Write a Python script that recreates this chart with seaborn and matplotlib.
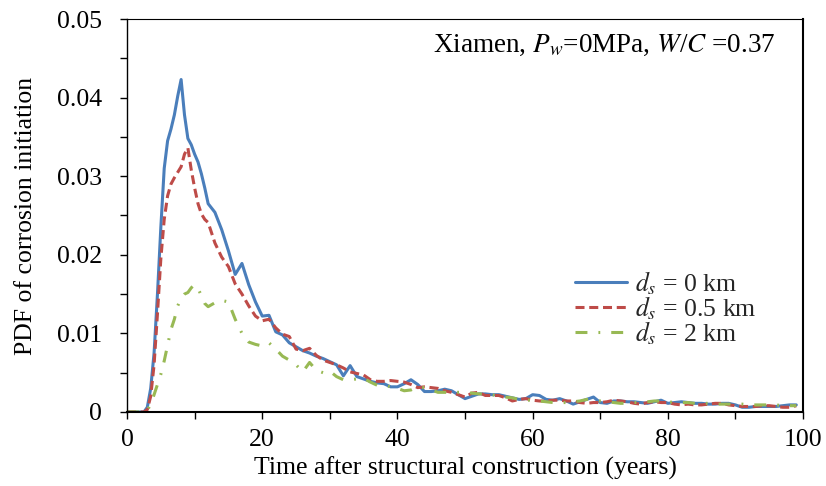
import matplotlib
matplotlib.use("Agg")
import matplotlib.pyplot as plt
import seaborn as sns
import pandas as pd
from matplotlib.ticker import MultipleLocator, FixedLocator, FixedFormatter

# ---------------- data ----------------
years = [
    0, 1, 2, 2.5, 3, 3.5, 4, 4.5, 5, 5.5, 6, 6.5, 7, 7.5, 8, 8.5, 9, 9.5, 10, 10.5, 11, 11.5, 12,
    13, 14, 15, 16, 17, 18, 19,
    20, 21, 22, 23, 24, 25, 26, 27, 28, 29,
    30, 31, 32, 33, 34, 35, 36, 37, 38, 39,
    40, 41, 42, 43, 44, 45, 46, 47, 48, 49,
    50, 51, 52, 53, 54, 55, 56, 57, 58, 59,
    60, 61, 62, 63, 64, 65, 66, 67, 68, 69,
    70, 71, 72, 73, 74, 75, 76, 77, 78, 79,
    80, 81, 82, 83, 84, 85, 86, 87, 88, 89,
    90, 91, 92, 93, 94, 95, 96, 97, 98, 99,
]

pdf_0km = [
    0, 0, 0, 0, 0.0006, 0.0030, 0.0075, 0.0150, 0.0235, 0.0310, 0.0345, 0.0360, 0.0378, 0.0402,
    0.0423, 0.0378, 0.0348, 0.0340, 0.0328, 0.0318, 0.0303, 0.0285, 0.0265,
    0.0254, 0.0232, 0.0205, 0.0175, 0.0189, 0.0162, 0.0140,
    0.0122, 0.0123, 0.0102, 0.0098, 0.0088, 0.0083, 0.0078, 0.0075, 0.0071, 0.0068,
    0.0064, 0.0060, 0.0046, 0.0059, 0.0045, 0.0042, 0.0039, 0.0037, 0.0036, 0.0032,
    0.0032, 0.0036, 0.0041, 0.0035, 0.0026, 0.0026, 0.0027, 0.0029, 0.0027, 0.0022,
    0.0017, 0.0020, 0.0023, 0.0023, 0.0022, 0.0022, 0.0020, 0.0018, 0.0016, 0.0017,
    0.0022, 0.0021, 0.0016, 0.0015, 0.0017, 0.0014, 0.0010, 0.0013, 0.0016, 0.0019,
    0.0012, 0.0011, 0.0014, 0.0014, 0.0013, 0.0013, 0.0012, 0.0011, 0.0013, 0.0015,
    0.0011, 0.0012, 0.0013, 0.0012, 0.0011, 0.0011, 0.0010, 0.0010, 0.0011, 0.0011,
    0.0009, 0.0006, 0.0006, 0.0007, 0.0007, 0.0007, 0.0007, 0.0008, 0.0009, 0.0009,
]

pdf_05km = [
    0, 0, 0, 0, 0.0003, 0.0020, 0.0060, 0.0125, 0.0195, 0.0245, 0.0275, 0.0290, 0.0298, 0.0305,
    0.0312, 0.0328, 0.0336, 0.0308, 0.0285, 0.0265, 0.0252, 0.0245, 0.0241,
    0.0215, 0.0197, 0.0185, 0.0163, 0.0150, 0.0135, 0.0122,
    0.0116, 0.0118, 0.0107, 0.0099, 0.0096, 0.0080, 0.0078, 0.0081, 0.0072, 0.0066,
    0.0063, 0.0060, 0.0056, 0.0051, 0.0049, 0.0047, 0.0041, 0.0039, 0.0039, 0.0040,
    0.0039, 0.0038, 0.0035, 0.0031, 0.0032, 0.0031, 0.0030, 0.0027, 0.0025, 0.0022,
    0.0019, 0.0024, 0.0025, 0.0021, 0.0021, 0.0021, 0.0018, 0.0014, 0.0016, 0.0017,
    0.0015, 0.0014, 0.0014, 0.0015, 0.0015, 0.0014, 0.0014, 0.0012, 0.0011, 0.0012,
    0.0012, 0.0013, 0.0015, 0.0014, 0.0013, 0.0011, 0.0010, 0.0012, 0.0013, 0.0012,
    0.0012, 0.0010, 0.0009, 0.0010, 0.0009, 0.0009, 0.0010, 0.0011, 0.0011, 0.0009,
    0.0008, 0.0007, 0.0007, 0.0007, 0.0008, 0.0008, 0.0007, 0.0006, 0.0006, 0.0008,
]

pdf_2km = [
    0, 0, 0, 0, 0.0002, 0.0010, 0.0022, 0.0035, 0.0048, 0.0065, 0.0085, 0.0105, 0.0118, 0.0135,
    0.0145, 0.0150, 0.0152, 0.0158, 0.0162, 0.0157, 0.0148, 0.0138, 0.0134,
    0.0139, 0.0142, 0.0140, 0.0118, 0.0100, 0.0089, 0.0086,
    0.0084, 0.0088, 0.0080, 0.0071, 0.0066, 0.0060, 0.0051, 0.0063, 0.0053, 0.0050,
    0.0052, 0.0045, 0.0041, 0.0041, 0.0042, 0.0043, 0.0038, 0.0034, 0.0034, 0.0032,
    0.0030, 0.0027, 0.0028, 0.0032, 0.0031, 0.0028, 0.0025, 0.0025, 0.0025, 0.0025,
    0.0025, 0.0024, 0.0023, 0.0023, 0.0022, 0.0020, 0.0019, 0.0018, 0.0016, 0.0015,
    0.0015, 0.0014, 0.0013, 0.0012, 0.0012, 0.0012, 0.0013, 0.0014, 0.0016, 0.0016,
    0.0014, 0.0013, 0.0012, 0.0011, 0.0011, 0.0012, 0.0012, 0.0013, 0.0014, 0.0014,
    0.0013, 0.0012, 0.0012, 0.0012, 0.0011, 0.0011, 0.0011, 0.0010, 0.0010, 0.0010,
    0.0010, 0.0010, 0.0009, 0.0009, 0.0009, 0.0009, 0.0009, 0.0008, 0.0008, 0.0008,
]

series_labels = [r"$d_s$ = 0 km", r"$d_s$ = 0.5 km", r"$d_s$ = 2 km"]
x_ticks = [0, 20, 40, 60, 80, 100]
x_tick_labels = ["0", "20", "40", "60", "80", "100"]
y_ticks = [0, 0.01, 0.02, 0.03, 0.04, 0.05]
y_tick_labels = ["0", "0.01", "0.02", "0.03", "0.04", "0.05"]
annotation = r"Xiamen, $P_w$=0MPa, $W$/$C$ =0.37"
x_label = "Time after structural construction (years)"
y_label = "PDF of corrosion initiation"

# ---------------- style ----------------
sns.set_style("ticks")
plt.rcParams["font.family"] = ["Liberation Serif", "DejaVu Serif"]
plt.rcParams["mathtext.fontset"] = "stix"

FS = 18.5
colors = ["#4A7EBB", "#BE4B48", "#98B954"]
styles = ["-", (0, (2.95, 1.55)), (0, (3.9, 3.6, 0.6, 3.6))]
LW = 2.2

fig = plt.figure(figsize=(8.26, 4.86), dpi=100)
ax = fig.add_axes([0.1538, 0.1523, 0.8184, 0.8086])

for vals, lab, col, ls in zip([pdf_0km, pdf_05km, pdf_2km], series_labels, colors, styles):
    df = pd.DataFrame({"t": years, "pdf": vals})
    sns.lineplot(data=df, x="t", y="pdf", ax=ax, color=col, linewidth=LW,
                 linestyle=ls, label=lab)

ax.set_xlim(0, 100)
ax.set_ylim(0, 0.05)
ax.xaxis.set_major_locator(FixedLocator(x_ticks))
ax.xaxis.set_major_formatter(FixedFormatter(x_tick_labels))
ax.yaxis.set_major_locator(FixedLocator(y_ticks))
ax.yaxis.set_major_formatter(FixedFormatter(y_tick_labels))
ax.xaxis.set_minor_locator(MultipleLocator(10))
ax.yaxis.set_minor_locator(MultipleLocator(0.005))

ax.tick_params(axis="both", which="both", direction="out", length=5, width=1.0,
               color="black", labelsize=FS, labelcolor="black")
ax.tick_params(axis="x", which="major", pad=7.5)
ax.tick_params(axis="y", which="major", pad=13)
ax.tick_params(top=False, right=False, which="both")

for side, lw in [("left", 1.0), ("bottom", 1.5), ("right", 1.5), ("top", 0.8)]:
    ax.spines[side].set_visible(True)
    ax.spines[side].set_linewidth(lw)
    ax.spines[side].set_color("black")

ax.set_xlabel(x_label, fontsize=FS, color="black")
ax.set_ylabel(y_label, fontsize=FS, color="black")
ax.xaxis.set_label_coords(0.5, -0.1145)
ax.yaxis.set_label_coords(-0.133, 0.5)

ax.text(0.9586, 0.9168, annotation, transform=ax.transAxes, ha="right",
        va="baseline", fontsize=19.5, color="black")

leg = ax.legend(loc="center left", bbox_to_anchor=(0.663, 0.265), frameon=False,
                fontsize=FS, handlelength=2.0, handletextpad=0.31,
                labelspacing=-0.1, borderpad=0, borderaxespad=0)

ax.grid(False)
fig.savefig("out.png", dpi=100, facecolor="white")
